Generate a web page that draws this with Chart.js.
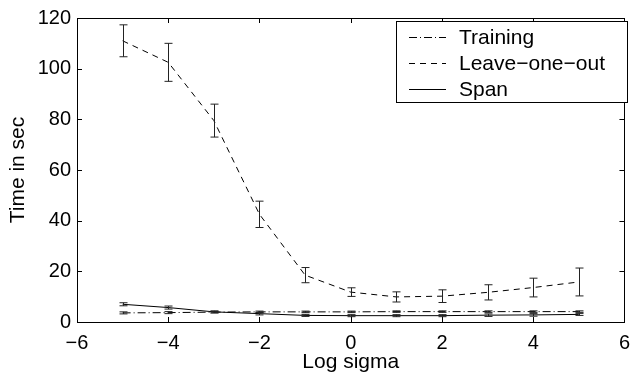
<!DOCTYPE html>
<html>
<head>
<meta charset="utf-8">
<script src="https://cdn.jsdelivr.net/npm/chart.js@4/dist/chart.umd.min.js"></script>
<style>
  html, body { margin: 0; padding: 0; background: #fff; }
  #wrap { width: 639px; height: 377px; }
</style>
</head>
<body>
<div id="wrap"><canvas id="chart" width="639" height="377"></canvas></div>
<script>
// Dữ liệu
const logSigma = [-5, -4, -3, -2, -1, 0, 1, 2, 3, 4, 5];
const trainingTime = [3.6, 3.7, 3.9, 4.0, 4.0, 4.0, 4.1, 4.1, 4.1, 4.1, 4.1];
const trainingErr = [0.4, 0.4, 0.3, 0.3, 0.3, 0.3, 0.3, 0.3, 0.3, 0.3, 0.3];
const looTime = [111, 102.5, 79.5, 42.5, 18.5, 11.8, 9.9, 10.2, 11.7, 13.6, 15.8];
const looErr = [6.3, 7.5, 6.5, 5.2, 3, 1.7, 2, 2.5, 3, 3.7, 5.5];
const spanTime = [7.0, 5.7, 4.0, 3.3, 2.6, 2.5, 2.5, 2.5, 2.7, 2.8, 3.0];
const spanErr = [0.6, 0.6, 0.4, 0.5, 0.4, 0.4, 0.4, 0.4, 0.5, 0.5, 0.4];
const xTicks = [-6, -4, -2, 0, 2, 4, 6];
const yTicks = [0, 20, 40, 60, 80, 100, 120];

const FONT = 'Liberation Sans, Arial, Helvetica, sans-serif';
const toPts = (vals) => vals.map((v, i) => ({ x: logSigma[i], y: v }));

// Vẽ thanh sai số
const errorBarPlugin = {
    id: 'errorBars',
    afterDatasetsDraw(chart) {
        const { ctx, scales: { x, y } } = chart;
        ctx.save();
        chart.data.datasets.forEach((ds) => {
            if (!ds.errors) return;
            ctx.strokeStyle = '#222';
            ctx.lineWidth = 1;
            ctx.setLineDash([]);
            ds.data.forEach((p, i) => {
                const e = ds.errors[i];
                const px = Math.round(x.getPixelForValue(p.x)) + 0.5;
                const top = y.getPixelForValue(p.y + e);
                const bot = y.getPixelForValue(p.y - e);
                ctx.beginPath();
                ctx.moveTo(px, top); ctx.lineTo(px, bot);
                ctx.moveTo(px - 4, top); ctx.lineTo(px + 4, top);
                ctx.moveTo(px - 4, bot); ctx.lineTo(px + 4, bot);
                ctx.stroke();
            });
        });
        ctx.restore();
    }
};

// Khung và vạch chia hướng vào trong (kiểu MATLAB)
const framePlugin = {
    id: 'frame',
    afterDatasetsDraw(chart) {
        const { ctx, chartArea: a, scales: { x, y } } = chart;
        ctx.save();
        ctx.strokeStyle = '#000';
        ctx.lineWidth = 1;
        ctx.setLineDash([]);
        ctx.strokeRect(Math.round(a.left) + 0.5, Math.round(a.top) + 0.5,
            Math.round(a.right - a.left), Math.round(a.bottom - a.top));
        ctx.beginPath();
        const L = 5;
        xTicks.forEach((t) => {
            const px = Math.round(x.getPixelForValue(t)) + 0.5;
            ctx.moveTo(px, a.bottom); ctx.lineTo(px, a.bottom - L);
            ctx.moveTo(px, a.top); ctx.lineTo(px, a.top + L);
        });
        yTicks.forEach((t) => {
            const py = Math.round(y.getPixelForValue(t)) + 0.5;
            ctx.moveTo(a.left, py); ctx.lineTo(a.left + L, py);
            ctx.moveTo(a.right, py); ctx.lineTo(a.right - L, py);
        });
        ctx.stroke();
        ctx.restore();
    }
};

// Chú thích trong khung
const boxLegendPlugin = {
    id: 'boxLegend',
    afterDraw(chart) {
        const { ctx } = chart;
        const bx = 396.5, by = 21.5, bw = 231, bh = 81;
        ctx.save();
        ctx.fillStyle = '#fff';
        ctx.fillRect(bx, by, bw, bh);
        ctx.strokeStyle = '#000';
        ctx.lineWidth = 1;
        ctx.strokeRect(bx, by, bw, bh);
        ctx.font = '21px ' + FONT;
        ctx.textBaseline = 'middle';
        ctx.fillStyle = '#000';
        chart.data.datasets.forEach((ds, i) => {
            const ly = Math.round(37 + i * 25.8) + 0.5;
            ctx.beginPath();
            ctx.setLineDash(ds.borderDash || []);
            ctx.strokeStyle = ds.borderColor;
            ctx.moveTo(409, ly); ctx.lineTo(446, ly);
            ctx.stroke();
            ctx.fillText(ds.label, 459, ly + 1);
        });
        ctx.restore();
    }
};

new Chart(document.getElementById('chart'), {
    type: 'line',
    data: {
        datasets: [
            {
                label: 'Training',
                data: toPts(trainingTime),
                errors: trainingErr,
                borderColor: '#000',
                borderDash: [8, 3, 1, 3],
                borderWidth: 1
            },
            {
                label: 'Leave\u2212one\u2212out',
                data: toPts(looTime),
                errors: looErr,
                borderColor: '#000',
                borderDash: [6, 5],
                borderWidth: 1
            },
            {
                label: 'Span',
                data: toPts(spanTime),
                errors: spanErr,
                borderColor: '#000',
                borderWidth: 1
            }
        ]
    },
    options: {
        responsive: false,
        animation: false,
        layout: { padding: { top: 14, right: 6, left: 0, bottom: 0 } },
        elements: { point: { radius: 0 }, line: { tension: 0 } },
        plugins: { legend: { display: false }, tooltip: { enabled: false } },
        scales: {
            x: {
                type: 'linear',
                min: -6, max: 6,
                afterBuildTicks: (s) => { s.ticks = xTicks.map((v) => ({ value: v })); },
                afterFit: (s) => { s.height = 55; },
                grid: { display: false, drawTicks: false },
                border: { display: false },
                ticks: {
                    color: '#000', padding: 9,
                    font: { family: FONT, size: 20 },
                    callback: (v) => String(v).replace('-', '\u2212')
                },
                title: {
                    display: true, text: 'Log sigma', color: '#000',
                    font: { family: FONT, size: 21 }, padding: { top: 0, bottom: 2 }
                }
            },
            y: {
                min: 0, max: 120,
                afterBuildTicks: (s) => { s.ticks = yTicks.map((v) => ({ value: v })); },
                afterFit: (s) => { s.width = 77; },
                grid: { display: false, drawTicks: false },
                border: { display: false },
                ticks: {
                    color: '#000', padding: 6,
                    font: { family: FONT, size: 20 }
                },
                title: {
                    display: true, text: 'Time in sec', color: '#000',
                    font: { family: FONT, size: 21 }, padding: { top: 6, bottom: 4 }
                }
            }
        }
    },
    plugins: [errorBarPlugin, framePlugin, boxLegendPlugin]
});
</script>
</body>
</html>
